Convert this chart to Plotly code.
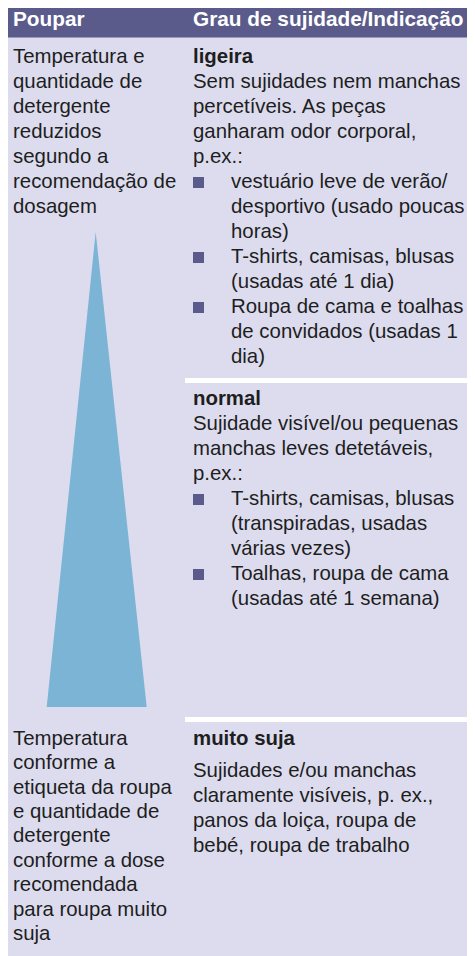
import plotly.graph_objects as go

# ---------------- data (text content of the table) ----------------
header_left = "Poupar"
header_right = "Grau de sujidade/Indicação"

left_top = ["Temperatura e", "quantidade de", "detergente", "reduzidos",
            "segundo a", "recomendação de", "dosagem"]
left_bottom = ["Temperatura", "conforme a", "etiqueta da roupa", "e quantidade de",
               "detergente", "conforme a dose", "recomendada", "para roupa muito", "suja"]

# (text, kind) kind: 'b' bold title, 't' text, 'l' bullet line start, 'c' bullet continuation
level_light = [("ligeira", "b"), ("Sem sujidades nem manchas", "t"), ("percetíveis. As peças", "t"),
               ("ganharam odor corporal,", "t"), ("p.ex.:", "t"),
               ("vestuário leve de verão/", "l"), ("desportivo (usado poucas", "c"), ("horas)", "c"),
               ("T-shirts, camisas, blusas", "l"), ("(usadas até 1 dia)", "c"),
               ("Roupa de cama e toalhas", "l"), ("de convidados (usadas 1", "c"), ("dia)", "c")]
level_normal = [("normal", "b"), ("Sujidade visível/ou pequenas", "t"), ("manchas leves detetáveis,", "t"),
                ("p.ex.:", "t"),
                ("T-shirts, camisas, blusas", "l"), ("(transpiradas, usadas", "c"), ("várias vezes)", "c"),
                ("Toalhas, roupa de cama", "l"), ("(usadas até 1 semana)", "c")]
level_heavy = [("muito suja", "b"), ("Sujidades e/ou manchas", "t"), ("claramente visíveis, p. ex.,", "t"),
               ("panos da loiça, roupa de", "t"), ("bebé, roupa de trabalho", "t")]

# ---------------- layout constants ----------------
W, H = 475, 956
OFF = 8  # page body margin: shift axes so data units equal screen pixels
FONT = "Liberation Sans, Arial, sans-serif"
FS = 20.4
HFS = 20.8
LH = 25
HEADER_C = "#5b5b8b"
BG_C = "#dcdcee"
TRI_C = "#7bb4d5"
TEXT_C = "#1e1e1e"
X0, X1 = 5, 472
XL, XR, XI = 13, 193, 231

fig = go.Figure()
shapes = [
    dict(type="rect", x0=X0, x1=X1, y0=0, y1=H + 20, fillcolor=BG_C, line_width=0, layer="below"),
    dict(type="rect", x0=X0, x1=X1, y0=0, y1=37.5, fillcolor=HEADER_C, line_width=0, layer="below"),
    dict(type="rect", x0=185, x1=X1, y0=378, y1=383, fillcolor="white", line_width=0, layer="below"),
    dict(type="rect", x0=185, x1=X1, y0=717, y1=722, fillcolor="white", line_width=0, layer="below"),
]

# triangle (savings indicator)
fig.add_trace(go.Scatter(x=[95.7, 146.7, 46.7, 95.7], y=[232, 707, 707, 232], mode="lines",
                         fill="toself", fillcolor=TRI_C, line=dict(color=TRI_C, width=0),
                         hoverinfo="skip", showlegend=False))

ann = []

def add_line(x, baseline, text, bold=False, color=TEXT_C, size=FS):
    t = f"<b>{text}</b>" if bold else text
    ann.append(dict(x=x, y=baseline - 0.35 * size, xref="x", yref="y", text=t, showarrow=False,
                    xanchor="left", yanchor="middle", borderpad=0, borderwidth=0,
                    font=dict(family=FONT, size=size, color=color)))

add_line(XL, 26, header_left, bold=True, color="white", size=HFS)
add_line(XR, 26, header_right, bold=True, color="white", size=HFS)

for i, t in enumerate(left_top):
    add_line(XL, 63 + i * LH, t)
for i, t in enumerate(left_bottom):
    add_line(XL, 745 + i * 24.4, t)

bx, by = [], []

def add_block(lines, start, gap_after_title=LH):
    y = start
    for i, (t, k) in enumerate(lines):
        if i == 1:
            y = start + gap_after_title
        elif i > 1:
            y += LH
        if k == "b":
            add_line(XR, y, t, bold=True)
        elif k == "t":
            add_line(XR, y, t)
        else:
            add_line(XI, y, t)
            if k == "l":
                bx.append(XR + 5.5)
                by.append(y - 5.5)

add_block(level_light, 63)
add_block(level_normal, 405)
add_block(level_heavy, 745, gap_after_title=32)

fig.add_trace(go.Scatter(x=bx, y=by, mode="markers",
                         marker=dict(symbol="square", size=11, color=HEADER_C, line_width=0),
                         hoverinfo="skip", showlegend=False))

fig.update_layout(width=W, height=H, margin=dict(l=0, r=0, t=0, b=0),
                  paper_bgcolor="white", plot_bgcolor="white",
                  xaxis=dict(range=[OFF, W + OFF], visible=False, fixedrange=True),
                  yaxis=dict(range=[H + OFF, OFF], visible=False, fixedrange=True),
                  shapes=shapes, annotations=ann)

fig.write_html("out.html")
